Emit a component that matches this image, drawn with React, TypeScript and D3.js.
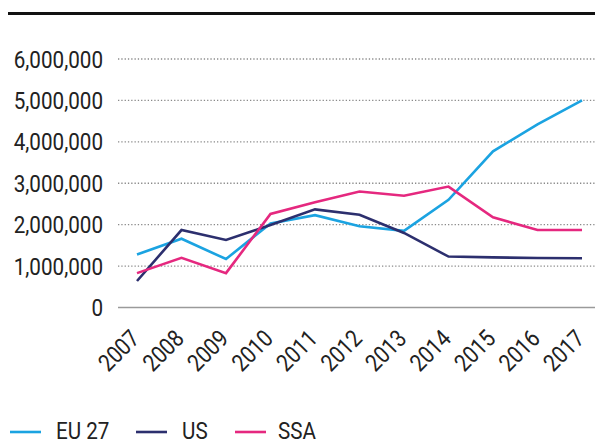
import React, { useEffect, useRef } from "react";
import * as d3 from "d3";

const years = [2007, 2008, 2009, 2010, 2011, 2012, 2013, 2014, 2015, 2016, 2017];
const eu27 = [1280000, 1660000, 1170000, 2030000, 2230000, 1960000, 1850000, 2600000, 3770000, 4420000, 5000000];
const us = [640000, 1870000, 1630000, 1990000, 2370000, 2240000, 1800000, 1230000, 1210000, 1195000, 1190000];
const ssa = [830000, 1200000, 830000, 2260000, 2540000, 2800000, 2700000, 2920000, 2180000, 1870000, 1870000];
const yTicks = [0, 1000000, 2000000, 3000000, 4000000, 5000000, 6000000];

const series = [
  { name: "EU 27", values: eu27, color: "#1ba3e1" },
  { name: "US", values: us, color: "#2c2f6e" },
  { name: "SSA", values: ssa, color: "#e5287f" },
];

const width = 595;
const height = 446;
const font = "400 24px Roboto, sans-serif";
const squeeze = "scale(0.86,1)";

export default function App() {
  const ref = useRef<SVGSVGElement>(null);

  useEffect(() => {
    const svg = d3.select(ref.current);
    svg.selectAll("*").remove();

    const x = d3.scalePoint<number>().domain(years).range([137, 582]);
    const y = d3.scaleLinear().domain([0, 6000000]).range([307.5, 59]);

    // heavy rule at the top
    svg
      .append("line")
      .attr("x1", 8)
      .attr("x2", width)
      .attr("y1", 13.5)
      .attr("y2", 13.5)
      .attr("stroke", "#111")
      .attr("stroke-width", 3);

    // grid
    const grid = svg.append("g");
    grid
      .selectAll("line")
      .data(yTicks)
      .enter()
      .append("line")
      .attr("x1", 118)
      .attr("x2", width)
      .attr("y1", d => y(d))
      .attr("y2", d => y(d))
      .attr("stroke", d => (d === 0 ? "#9a9a9a" : "#8a8a8a"))
      .attr("stroke-width", d => (d === 0 ? 1.5 : 1.3))
      .attr("stroke-dasharray", d => (d === 0 ? null : "1.3,2"));

    grid
      .selectAll("text")
      .data(yTicks)
      .enter()
      .append("text")
      .attr("transform", d => `translate(103,${y(d)}) ${squeeze}`)
      .attr("dy", "0.36em")
      .attr("text-anchor", "end")
      .style("font", font)
      .style("fill", "#222")
      .text(d => d3.format(",")(d));

    // x labels
    svg
      .append("g")
      .selectAll("text")
      .data(years)
      .enter()
      .append("text")
      .attr("transform", d => `translate(${x(d)! + 4},${340}) rotate(-45) ${squeeze}`)
      .attr("text-anchor", "end")
      .style("font", font)
      .style("fill", "#222")
      .text(d => d);

    // lines
    const line = d3
      .line<number>()
      .x((d, i) => x(years[i])!)
      .y(d => y(d));

    svg
      .append("g")
      .selectAll("path")
      .data(series)
      .enter()
      .append("path")
      .attr("d", d => line(d.values))
      .attr("fill", "none")
      .attr("stroke", d => d.color)
      .attr("stroke-width", 2.6);

    // legend
    const legendX = [10, 136, 235];
    const lg = svg
      .append("g")
      .selectAll("g")
      .data(series)
      .enter()
      .append("g")
      .attr("transform", (d, i) => `translate(${legendX[i]},432)`);
    lg.append("line")
      .attr("x1", 0)
      .attr("x2", 31)
      .attr("stroke", d => d.color)
      .attr("stroke-width", 2.6);
    lg.append("text")
      .attr("transform", (d, i) => `translate(${i === 2 ? 43 : 46},0) ${squeeze}`)
      .attr("dy", "0.3em")
      .style("font", font)
      .style("fill", "#222")
      .text(d => d.name);
  }, []);

  return (
    <svg
      ref={ref}
      width={width}
      height={height}
      style={{ position: "absolute", left: 0, top: 0, background: "#fff" }}
    />
  );
}
